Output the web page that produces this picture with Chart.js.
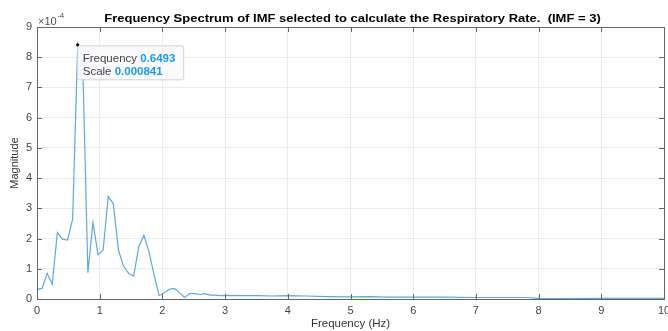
<!DOCTYPE html>
<html>
<head>
<meta charset="utf-8">
<script src="https://cdn.jsdelivr.net/npm/chart.js@4/dist/chart.umd.min.js"></script>
<style>
  html, body { margin: 0; padding: 0; background: #fff; }
  #wrap { width: 668px; height: 331px; }
</style>
</head>
<body>
<div id="wrap"><canvas id="spectrum"></canvas></div>
<script>
// frequency axis (Hz)
const freqs = [0, 0.0812, 0.1623, 0.2435, 0.3247, 0.4058, 0.4870, 0.5682, 0.6493, 0.7305,
  0.8117, 0.8928, 0.9740, 1.0552, 1.1363, 1.2175, 1.2987, 1.3798, 1.4610, 1.5422,
  1.6233, 1.7045, 1.7857, 1.8668, 1.9480, 2.0292, 2.1103, 2.1915, 2.2727, 2.3538,
  2.4350, 2.5162, 2.5973, 2.6785, 2.7597, 2.8408, 2.9220, 3.0032,
  3.25, 3.5, 3.75, 4.0, 4.3, 4.6, 5.0, 5.3, 5.6, 6.0, 6.5, 7.0, 7.5, 7.8, 8.0, 8.3, 9.0, 10.0];

// magnitude in units of 1e-4
const magnitude = [0.32, 0.35, 0.85, 0.49, 2.20, 1.98, 1.95, 2.64, 8.41, 7.70,
  0.87, 2.53, 1.46, 1.62, 3.39, 3.15, 1.62, 1.09, 0.85, 0.76,
  1.73, 2.11, 1.57, 0.80, 0.11, 0.21, 0.32, 0.35, 0.21, 0.05,
  0.18, 0.18, 0.15, 0.18, 0.13, 0.13, 0.11, 0.12,
  0.11, 0.11, 0.10, 0.11, 0.10, 0.08, 0.07, 0.08, 0.06, 0.06, 0.06, 0.05, 0.05, 0.05, 0.02, 0.01, 0.02, 0.02];

const xTicks = [0, 1, 2, 3, 4, 5, 6, 7, 8, 9, 10];
const yTicks = [0, 1, 2, 3, 4, 5, 6, 7, 8, 9];

const titleText = 'Frequency Spectrum of IMF selected to calculate the Respiratory Rate.  (IMF = 3)';
const FONT = '"Liberation Sans", Arial, sans-serif';

// box, inward ticks, title, exponent and the data tip
const matlabLook = {
    id: 'matlabLook',
    afterDatasetsDraw(chart) {
        const ctx = chart.ctx;
        const a = chart.chartArea;
        const xs = chart.scales.x, ys = chart.scales.y;
        ctx.save();

        ctx.strokeStyle = '#666';
        ctx.lineWidth = 1;
        ctx.beginPath();
        xTicks.forEach(v => {
            const px = Math.round(xs.getPixelForValue(v)) + 0.5;
            ctx.moveTo(px, a.bottom); ctx.lineTo(px, a.bottom - 5);
            ctx.moveTo(px, a.top); ctx.lineTo(px, a.top + 5);
        });
        yTicks.forEach(v => {
            const py = Math.round(ys.getPixelForValue(v)) + 0.5;
            ctx.moveTo(a.left, py); ctx.lineTo(a.left + 5, py);
            ctx.moveTo(a.right, py); ctx.lineTo(a.right - 5, py);
        });
        ctx.stroke();
        ctx.strokeRect(Math.round(a.left) + 0.5, Math.round(a.top) + 0.5,
            Math.round(a.right - a.left), Math.round(a.bottom - a.top));

        // title (the source image is slightly stretched horizontally)
        ctx.save();
        ctx.fillStyle = '#000';
        ctx.font = 'bold 11.5px ' + FONT;
        ctx.textAlign = 'center';
        ctx.textBaseline = 'alphabetic';
        ctx.translate((a.left + a.right) / 2 + 2, 22);
        ctx.scale(1.13, 1);
        ctx.fillText(titleText, 0, 0);
        ctx.restore();

        // exponent label
        ctx.textAlign = 'left';
        ctx.fillStyle = '#555';
        ctx.font = '11px ' + FONT;
        ctx.fillText('\u00d710', 38, 25);
        const w = ctx.measureText('\u00d710').width;
        ctx.font = '8px ' + FONT;
        ctx.fillText('-4', 38 + w + 0.5, 18);

        // data tip at the largest peak
        let iMax = 0;
        magnitude.forEach((v, i) => { if (v > magnitude[iMax]) iMax = i; });
        const pt = chart.getDatasetMeta(0).data[iMax];
        ctx.fillStyle = '#000';
        ctx.beginPath();
        ctx.arc(pt.x, pt.y, 1.6, 0, Math.PI * 2);
        ctx.fill();

        const bx = pt.x, by = pt.y + 1, bw = 106, bh = 34;
        ctx.fillStyle = 'rgba(250,250,253,0.95)';
        ctx.strokeStyle = '#d2d2d8';
        ctx.beginPath();
        ctx.roundRect(bx, by, bw, bh, 2);
        ctx.fill();
        ctx.stroke();

        const rows = [
            ['Frequency', freqs[iMax].toFixed(4)],
            ['Scale', (magnitude[iMax] * 1e-4).toFixed(6)]
        ];
        rows.forEach((r, k) => {
            const ty = by + 16 + k * 13;
            ctx.font = '11.5px ' + FONT;
            ctx.fillStyle = '#444';
            ctx.fillText(r[0], bx + 5, ty);
            const lw = ctx.measureText(r[0] + ' ').width;
            ctx.font = 'bold 11.5px ' + FONT;
            ctx.fillStyle = '#1a9cf0';
            ctx.fillText(r[1], bx + 5 + lw, ty);
        });

        ctx.restore();
    }
};

new Chart(document.getElementById('spectrum'), {
    type: 'line',
    data: {
        datasets: [{
            data: freqs.map((f, i) => ({ x: f, y: magnitude[i] })),
            borderColor: '#5ea8de',
            borderWidth: 1.2,
            pointRadius: 0,
            tension: 0,
            fill: false
        }]
    },
    options: {
        responsive: true,
        maintainAspectRatio: false,
        animation: false,
        layout: { padding: { top: 27, right: 4, left: 0, bottom: 0 } },
        plugins: {
            legend: { display: false },
            tooltip: { enabled: false },
            title: { display: false }
        },
        scales: {
            x: {
                type: 'linear',
                min: 0,
                max: 10,
                afterBuildTicks: s => { s.ticks = xTicks.map(v => ({ value: v })); },
                afterFit: s => { s.height = 32; s.paddingLeft = 0; s.paddingRight = 0; },
                ticks: { color: '#444', font: { family: FONT, size: 11 }, padding: 5, maxRotation: 0 },
                grid: { color: '#ececec', drawTicks: false },
                border: { display: false },
                title: { display: true, text: 'Frequency (Hz)', color: '#333',
                    font: { family: FONT, size: 11.5 }, padding: { top: 0, bottom: 0 } }
            },
            y: {
                min: 0,
                max: 9,
                afterBuildTicks: s => { s.ticks = yTicks.map(v => ({ value: v })); },
                afterFit: s => { s.width = 37; s.paddingTop = 0; s.paddingBottom = 0; },
                ticks: { color: '#444', font: { family: FONT, size: 11 }, padding: 5 },
                grid: { color: '#ececec', drawTicks: false },
                border: { display: false },
                title: { display: true, text: 'Magnitude', color: '#333',
                    font: { family: FONT, size: 11 }, padding: { top: 8, bottom: 0 } }
            }
        }
    },
    plugins: [matlabLook]
});
</script>
</body>
</html>
